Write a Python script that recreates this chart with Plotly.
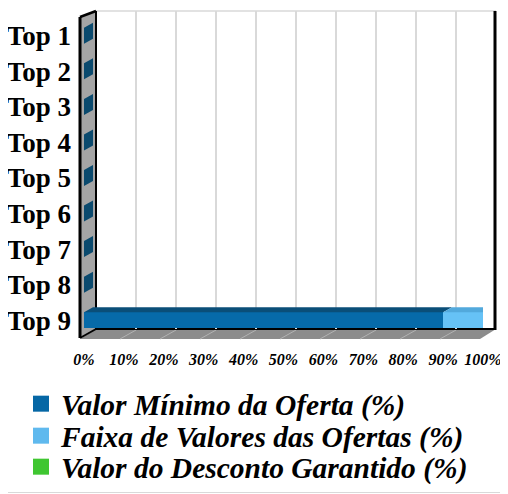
import plotly.graph_objects as go

# data
categories = ["Top 1", "Top 2", "Top 3", "Top 4", "Top 5", "Top 6", "Top 7", "Top 8", "Top 9"]
valor_minimo = [0, 0, 0, 0, 0, 0, 0, 0, 90]
faixa_valores = [0, 0, 0, 0, 0, 0, 0, 0, 10]
desconto_garantido = [0, 0, 0, 0, 0, 0, 0, 0, 0]
series_names = [
    "Valor Mínimo da Oferta (%)",
    "Faixa de Valores das Ofertas (%)",
    "Valor do Desconto Garantido (%)",
]
pct_ticks = [0, 10, 20, 30, 40, 50, 60, 70, 80, 90, 100]
pct_labels = [f"{v}%" for v in pct_ticks]

# colours per series: front face, top face, side face, legend square
face_colors = ["#066AA9", "#66C2F6", "#3FC631"]
top_colors = ["#0A4E78", "#52A9DC", "#2E9A24"]
side_colors = ["#0B4A6E", "#3A6E92", "#2A7A22"]
legend_colors = ["#0567A5", "#5FB9EE", "#3FC631"]

# the page body adds an 8px margin, so the figure is 8px smaller
# and all positions below are given in window pixels
OFF = 8
W, H = 508 - OFF, 494 - OFF

# pixel geometry of the fake 3d box (window pixels)
FRONT_X = (84, 483)     # bars plane, 0% .. 100%
FRONT_Y = (18, 338)
BACK_X = (96, 496)      # back wall
BACK_Y = (11, 329)
WALL_X = 80             # front edge of left wall / floor
FLOOR_Y = 339
BAR_DEPTH = (9, 5)      # px right / px up
BAR_WIDTH = 0.45


def fx(x):
    return (x - OFF) / W


def fy(y):
    return 1 - (y - OFF) / H


def path_of(points):
    return "M" + " L".join(f"{x:.5f},{y:.5f}" for x, y in points) + " Z"


def paper_poly(points, color):
    return dict(type="path", xref="paper", yref="paper", layer="below",
                path=path_of([(fx(x), fy(y)) for x, y in points]),
                fillcolor=color, line=dict(width=0))


def paper_line(p0, p1, color="black", width=2):
    return dict(type="line", xref="paper", yref="paper", layer="below",
                x0=fx(p0[0]), y0=fy(p0[1]), x1=fx(p1[0]), y1=fy(p1[1]),
                line=dict(color=color, width=width))


shapes = []

# left wall and floor
shapes.append(paper_poly([(WALL_X, BACK_Y[0] + 6), (BACK_X[0], BACK_Y[0]),
                          (BACK_X[0], BACK_Y[1]), (WALL_X, FLOOR_Y - 1)], "#A5A5A5"))
shapes.append(paper_poly([(BACK_X[0], BACK_Y[1]), (BACK_X[1], BACK_Y[1]),
                          (BACK_X[1] - 16, FLOOR_Y), (WALL_X, FLOOR_Y)], "#8C8C8C"))
px_per_pct = (BACK_X[1] - BACK_X[0]) / 100
for v in pct_ticks[1:-1]:
    xb = BACK_X[0] + v * px_per_pct
    shapes.append(paper_line((xb, BACK_Y[1] + 1), (xb - 16, FLOOR_Y), "#B3B3B3", 1))

# box edges
shapes.append(paper_line((BACK_X[0], BACK_Y[0]), (BACK_X[1], BACK_Y[0]), "#D9D9D9", 1.5))
shapes.append(paper_line((WALL_X, BACK_Y[0] + 6), (WALL_X, FLOOR_Y - 1), "black", 3))
shapes.append(paper_line((WALL_X, BACK_Y[0] + 6), (BACK_X[0], BACK_Y[0]), "black", 2.5))
shapes.append(paper_line((BACK_X[0], BACK_Y[0]), (BACK_X[0], BACK_Y[1]), "black", 2))
shapes.append(paper_line((WALL_X, FLOOR_Y - 1), (BACK_X[0], BACK_Y[1]), "black", 2))
shapes.append(paper_line((BACK_X[0], BACK_Y[1]), (BACK_X[1], BACK_Y[1]), "black", 2))
shapes.append(paper_line((BACK_X[1] - 1, BACK_Y[0]), (BACK_X[1] - 1, BACK_Y[1] + 1), "black", 3))

# chart frame (right and bottom visible)
shapes.append(paper_line((506.5, OFF), (506.5, 492.5), "#D9D9D9", 1))
shapes.append(paper_line((OFF, 492.5), (506.5, 492.5), "#D9D9D9", 1))

# 3d caps of bars, in data units of the front axes
dx = BAR_DEPTH[0] * 100 / (FRONT_X[1] - FRONT_X[0])
dy = BAR_DEPTH[1] * len(categories) / (FRONT_Y[1] - FRONT_Y[0])
hw = BAR_WIDTH / 2
all_series = [valor_minimo, faixa_valores, desconto_garantido]
for i, cat in enumerate(categories):
    start = 0
    end_color = side_colors[0]
    for s, vals in enumerate(all_series):
        v = vals[i]
        if v > 0:
            a, b = start, start + v
            shapes.append(dict(type="path", xref="x2", yref="y2", layer="above",
                               path=path_of([(a, i - hw), (b, i - hw), (b + dx, i - hw - dy), (a + dx, i - hw - dy)]),
                               fillcolor=top_colors[s], line=dict(width=0)))
            start = b
            end_color = side_colors[s]
    shapes.append(dict(type="path", xref="x2", yref="y2", layer="above",
                       path=path_of([(start, i - hw), (start + dx, i - hw - dy),
                                     (start + dx, i + hw - dy), (start, i + hw)]),
                       fillcolor=end_color, line=dict(width=0)))

fig = go.Figure()

# keeps the back wall subplot alive
fig.add_trace(go.Scatter(x=[None], y=[None], xaxis="x", yaxis="y", showlegend=False, hoverinfo="skip"))

for s, vals in enumerate(all_series):
    fig.add_trace(go.Bar(
        y=categories, x=vals, orientation="h", name=series_names[s],
        marker=dict(color=face_colors[s], line=dict(width=0)),
        width=BAR_WIDTH, xaxis="x2", yaxis="y2", showlegend=False,
    ))

legend_keys = ["legend", "legend2", "legend3"]
for s in range(3):
    fig.add_trace(go.Scatter(
        x=[None], y=[None], mode="markers", name=series_names[s],
        marker=dict(symbol="square", size=16, color=legend_colors[s]),
        xaxis="x2", yaxis="y2", legend=legend_keys[s],
    ))

legend_font = dict(family="Liberation Serif", size=29.5, color="black", weight="bold", style="italic")
legend_rows = [404, 436, 467]
legends = {}
for key, row in zip(legend_keys, legend_rows):
    legends[key] = dict(x=fx(21), y=fy(row), xanchor="left", yanchor="middle",
                        font=legend_font, bgcolor="rgba(0,0,0,0)", borderwidth=0)

fig.update_layout(
    width=W, height=H,
    margin=dict(l=0, r=0, t=0, b=0, autoexpand=False),
    paper_bgcolor="white",
    plot_bgcolor="rgba(0,0,0,0)",
    barmode="stack",
    shapes=shapes,
    xaxis=dict(domain=[fx(BACK_X[0]), fx(BACK_X[1])], range=[0, 100], anchor="y",
               tickvals=pct_ticks[1:-1], showticklabels=False, ticks="",
               showgrid=True, gridcolor="#D9D9D9", gridwidth=1.5,
               zeroline=False, showline=False, fixedrange=True, automargin=False),
    yaxis=dict(domain=[fy(BACK_Y[1]), fy(BACK_Y[0])], range=[0, 1], anchor="x",
               showgrid=False, zeroline=False, showticklabels=False, fixedrange=True,
               automargin=False),
    xaxis2=dict(domain=[fx(FRONT_X[0]), fx(FRONT_X[1])], range=[0, 100], anchor="y2",
                tickvals=pct_ticks, ticktext=pct_labels, showgrid=False, zeroline=False,
                showline=False, ticks="", ticklabelstandoff=10, fixedrange=True,
                automargin=False,
                tickfont=dict(family="Liberation Serif", size=16, color="black",
                              weight="bold", style="italic")),
    yaxis2=dict(domain=[fy(FRONT_Y[1]), fy(FRONT_Y[0])], type="category",
                range=[len(categories) - 0.5, -0.5], anchor="x2",
                showgrid=False, zeroline=False, showline=False, ticks="",
                ticklabelstandoff=12, fixedrange=True, automargin=False,
                tickfont=dict(family="Liberation Serif", size=27, color="black", weight="bold")),
    **legends,
)

fig.write_html("out.html")
